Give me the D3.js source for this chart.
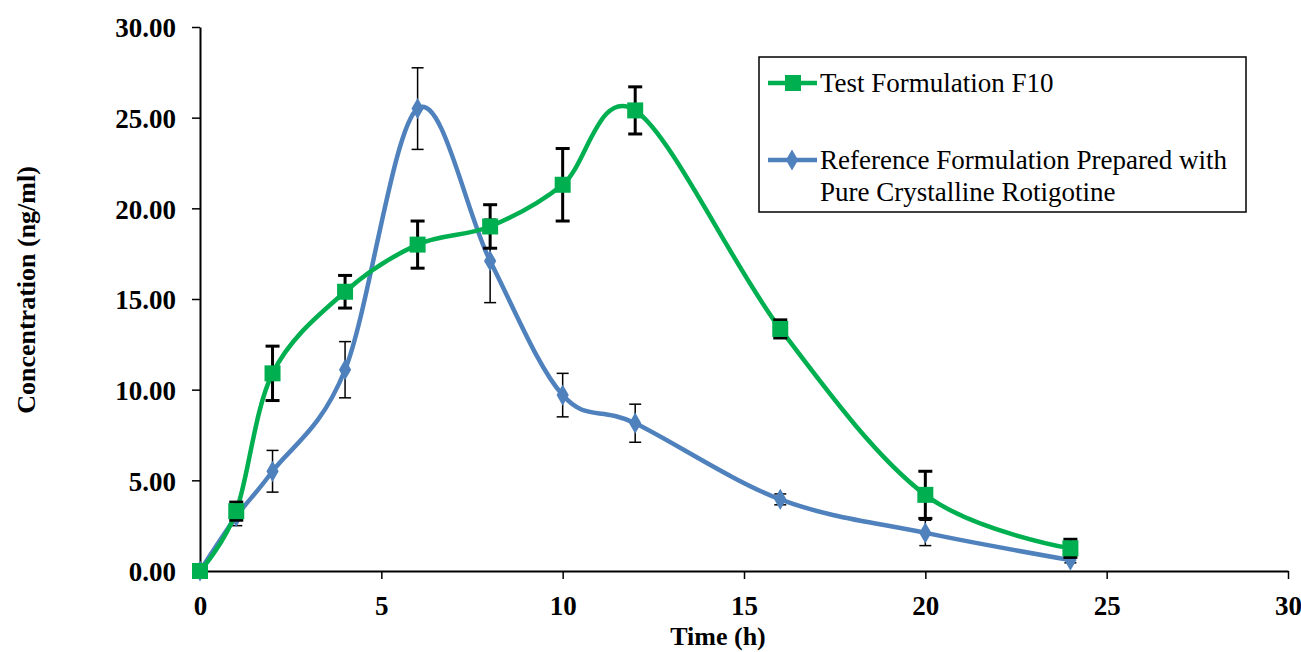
<!DOCTYPE html>
<html>
<head>
<meta charset="utf-8">
<script src="https://cdn.jsdelivr.net/npm/d3@7"></script>
<style>
  body { margin: 0; background: #fff; }
  svg text { font-family: "Liberation Serif", "Times New Roman", serif; }
</style>
</head>
<body>
<div id="chart"></div>
<script>
// sampling times (h)
const times = [0, 1, 2, 4, 6, 8, 10, 12, 16, 20, 24];

// Test Formulation F10
const testF10 = [0, 3.3, 10.9, 15.4, 18.0, 19.0, 21.3, 25.4, 13.35, 4.2, 1.25];
const testF10Err = [0, 0.5, 1.5, 0.9, 1.3, 1.2, 2.0, 1.3, 0.5, 1.3, 0.5];

// Reference formulation (pure crystalline rotigotine)
const reference = [0, 3.0, 5.5, 11.1, 25.5, 17.1, 9.7, 8.15, 3.95, 2.1, 0.6];
const referenceErr = [0, 0.5, 1.15, 1.55, 2.25, 2.3, 1.2, 1.05, 0.3, 0.7, 0.15];

const xTicks = [0, 5, 10, 15, 20, 25, 30];
const yTicks = [0, 5, 10, 15, 20, 25, 30];

const legendLabels = [
    ['Test Formulation F10'],
    ['Reference Formulation Prepared with', 'Pure Crystalline Rotigotine']
];

const W = 1301, H = 652;
const serif = '"Liberation Serif", "Times New Roman", serif';
const green = '#00b050', blue = '#4f81bd';

const svg = d3.select('#chart').append('svg')
    .attr('width', W)
    .attr('height', H);

const x = d3.scaleLinear().domain([0, 30]).range([200, 1288]);
const y = d3.scaleLinear().domain([0, 30]).range([571, 27]);

// axes
const xAxis = svg.append('g')
    .attr('transform', `translate(0,${y(0)})`)
    .call(d3.axisBottom(x).tickValues(xTicks).tickSize(8).tickSizeOuter(0).tickPadding(12));
const yAxis = svg.append('g')
    .attr('transform', `translate(${x(0)},0)`)
    .call(d3.axisLeft(y).tickValues(yTicks).tickFormat(d3.format('.2f')).tickSize(8).tickSizeOuter(0).tickPadding(16));

[xAxis, yAxis].forEach(g => {
    g.attr('font-family', serif);
    g.select('.domain').attr('stroke', '#000').attr('stroke-width', 2);
    g.selectAll('.tick line').attr('stroke', '#000').attr('stroke-width', 1.5);
    g.selectAll('.tick text')
        .attr('fill', '#000')
        .attr('font-family', serif)
        .attr('font-weight', 'bold')
        .attr('font-size', 27);
});
yAxis.selectAll('.tick text').attr('dy', '0.36em');
xAxis.selectAll('.tick text').attr('dy', '0.9em');

svg.append('text')
    .attr('x', 718).attr('y', 645)
    .attr('text-anchor', 'middle')
    .attr('font-family', serif)
    .attr('font-weight', 'bold').attr('font-size', 26)
    .text('Time (h)');

svg.append('text')
    .attr('transform', 'translate(35,290) rotate(-90)')
    .attr('text-anchor', 'middle')
    .attr('font-family', serif)
    .attr('font-weight', 'bold').attr('font-size', 26)
    .text('Concentration (ng/ml)');

const line = d3.line()
    .x(d => x(d.t))
    .y(d => y(d.v))
    .curve(d3.curveCatmullRom.alpha(0));

function series(values, errs) {
    return times.map((t, i) => ({ t: t, v: values[i], e: errs[i] }));
}

function drawErrors(data, width, cap) {
    const g = svg.append('g').attr('stroke', '#000').attr('stroke-width', width);
    const pts = data.filter(d => d.e > 0);
    g.selectAll('.ev').data(pts).enter().append('line')
        .attr('x1', d => x(d.t)).attr('x2', d => x(d.t))
        .attr('y1', d => y(d.v - d.e)).attr('y2', d => y(d.v + d.e));
    [-1, 1].forEach(s => {
        g.selectAll('.cap' + s).data(pts).enter().append('line')
            .attr('x1', d => x(d.t) - cap).attr('x2', d => x(d.t) + cap)
            .attr('y1', d => y(d.v + s * d.e)).attr('y2', d => y(d.v + s * d.e));
    });
}

const refData = series(reference, referenceErr);
const testData = series(testF10, testF10Err);

// reference series (blue, diamonds)
drawErrors(refData, 1.5, 6);
svg.append('path').datum(refData)
    .attr('d', line)
    .attr('fill', 'none').attr('stroke', blue).attr('stroke-width', 4.5);
const diamond = d3.symbol().type(d3.symbolDiamond).size(130);
svg.selectAll('.ref-pt').data(refData).enter().append('path')
    .attr('transform', d => `translate(${x(d.t)},${y(d.v)})`)
    .attr('d', diamond)
    .attr('fill', blue);

// test series (green, squares)
svg.append('path').datum(testData)
    .attr('d', line)
    .attr('fill', 'none').attr('stroke', green).attr('stroke-width', 4.5);
drawErrors(testData, 3, 7);
svg.selectAll('.test-pt').data(testData).enter().append('rect')
    .attr('x', d => x(d.t) - 8).attr('y', d => y(d.v) - 8)
    .attr('width', 16).attr('height', 16)
    .attr('fill', green);

// legend
const legend = svg.append('g');
legend.append('rect')
    .attr('x', 759).attr('y', 57).attr('width', 487).attr('height', 155)
    .attr('fill', '#fff').attr('stroke', '#000').attr('stroke-width', 1.5);

const legendRows = [
    { color: green, shape: 'square', y: 83 },
    { color: blue, shape: 'diamond', y: 160 }
];
legendRows.forEach((r, i) => {
    legend.append('line')
        .attr('x1', 768).attr('x2', 817).attr('y1', r.y).attr('y2', r.y)
        .attr('stroke', r.color).attr('stroke-width', 4.5);
    if (r.shape === 'square') {
        legend.append('rect').attr('x', 785).attr('y', r.y - 8).attr('width', 16).attr('height', 16).attr('fill', r.color);
    } else {
        legend.append('path').attr('transform', `translate(792,${r.y})`).attr('d', diamond).attr('fill', r.color);
    }
    legendLabels[i].forEach((txt, j) => {
        legend.append('text')
            .attr('x', 820).attr('y', r.y + 9 + j * 32)
            .attr('font-family', serif)
            .attr('font-size', 27)
            .text(txt);
    });
});
</script>
</body>
</html>
